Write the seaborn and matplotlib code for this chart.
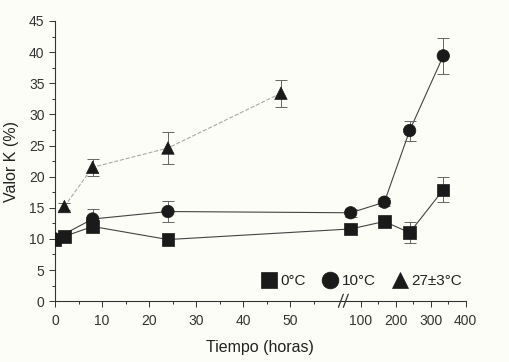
import numpy as np
import pandas as pd
import matplotlib
matplotlib.use("Agg")
import matplotlib.pyplot as plt
import seaborn as sns

# valores (Tiempo en horas, Valor K en %)
tiempo_0 = [0, 2, 8, 24, 72, 168, 240, 336]
valor_0 = [9.8, 10.4, 12.0, 9.9, 11.6, 12.8, 11.0, 17.9]
error_0 = [0.4, 0.6, 0.8, 0.3, 0.3, 0.6, 1.7, 2.0]

tiempo_10 = [0, 8, 24, 72, 168, 240, 336]
valor_10 = [10.0, 13.2, 14.4, 14.2, 15.9, 27.4, 39.4]
error_10 = [0.4, 1.6, 1.7, 0.6, 0.6, 1.6, 2.9]

tiempo_27 = [2, 8, 24, 48]
valor_27 = [15.2, 21.5, 24.6, 33.4]
error_27 = [0.5, 1.4, 2.5, 2.2]

series = ["0°C", "10°C", "27±3°C"]
marcadores = {"0°C": "s", "10°C": "o", "27±3°C": "^"}

df = pd.concat([
    pd.DataFrame({"Tiempo": tiempo_0, "K": valor_0, "err": error_0, "Serie": series[0]}),
    pd.DataFrame({"Tiempo": tiempo_10, "K": valor_10, "err": error_10, "Serie": series[1]}),
    pd.DataFrame({"Tiempo": tiempo_27, "K": valor_27, "err": error_27, "Serie": series[2]}),
], ignore_index=True)

# eje x partido: 0-60 h lineal, despues 60-400 h comprimido
CORTE = 60.0
SALTO = 1.92
PEND = 0.0745


def fwd(t):
    t = np.asarray(t, dtype=float)
    return np.where(t <= CORTE, t, CORTE + SALTO + (t - CORTE) * PEND)


def inv(u):
    u = np.asarray(u, dtype=float)
    return np.where(u <= CORTE, u,
                    np.where(u < CORTE + SALTO, CORTE, CORTE + (u - CORTE - SALTO) / PEND))


sns.set_style("ticks")
plt.rcParams["font.family"] = ["Liberation Sans", "DejaVu Sans"]
bg = "#fdfdf8"

fig = plt.figure(figsize=(5.09, 3.62), dpi=100, facecolor=bg)
ax = fig.add_axes([0.108, 0.168, 0.807, 0.774], facecolor=bg)
ax.set_xscale("function", functions=(fwd, inv))

# lineas finas que unen los puntos
estilos_linea = {"0°C": "-", "10°C": "-", "27±3°C": "--"}
colores_linea = {"0°C": "#444444", "10°C": "#444444", "27±3°C": "#aaaaaa"}
for s in series:
    d = df[df.Serie == s]
    sns.lineplot(data=d, x="Tiempo", y="K", ax=ax, color=colores_linea[s],
                 linestyle=estilos_linea[s], linewidth=0.8, legend=False, zorder=1)
    ax.errorbar(d.Tiempo, d.K, yerr=d.err, fmt="none", ecolor="#666666",
                elinewidth=0.7, capsize=4, capthick=0.7, zorder=2)

sns.scatterplot(data=df, x="Tiempo", y="K", hue="Serie", style="Serie",
                markers=marcadores, palette=["#1a1a1a"] * 3, s=80,
                edgecolor="#1a1a1a", linewidth=0.5, ax=ax, zorder=3)

ax.set_xlim(0, 400)
ax.set_ylim(0, 45)
ax.set_xticks([0, 10, 20, 30, 40, 50, 100, 200, 300, 400])
ax.set_xticks([5, 15, 25, 35, 45, 55, 150, 250, 350], minor=True)
ax.set_yticks(np.arange(0, 46, 5))
ax.set_yticks(np.arange(2.5, 45, 5), minor=True)

ax.tick_params(axis="both", which="major", direction="out", length=4,
               width=0.7, labelsize=10, colors="#333333")
ax.tick_params(axis="x", which="major", pad=5)
ax.tick_params(axis="both", which="minor", direction="out", length=2.5,
               width=0.7, colors="#333333")
sns.despine(ax=ax)
for sp in ["left", "bottom"]:
    ax.spines[sp].set_linewidth(0.8)
    ax.spines[sp].set_color("#333333")

ax.set_xlabel("Tiempo (horas)", fontsize=11.5, color="#222222", labelpad=9)
ax.set_ylabel("Valor K (%)", fontsize=11.5, color="#222222", labelpad=7)

# marcas de corte //
xb = 0.698
for dx in (0.0, 0.012):
    ax.plot([xb - 0.008 + dx, xb + 0.004 + dx], [-0.022, 0.025], transform=ax.transAxes,
            color="#333333", linewidth=0.9, clip_on=False, zorder=5)

leg = ax.legend(loc="center", bbox_to_anchor=(0.745, 0.072), ncol=3, frameon=False,
                fontsize=11, handletextpad=0.15, columnspacing=1.0,
                handlelength=1.2, markerscale=1.35)
for txt in leg.get_texts():
    txt.set_color("#222222")

fig.savefig("out.png", dpi=100, facecolor=bg)
